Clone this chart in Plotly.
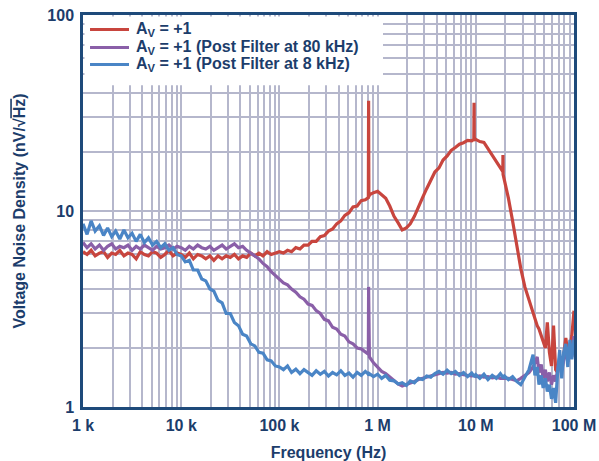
import plotly.graph_objects as go

# Frequency grid in kHz (extra points around the spurs and in the noisy top decade)
FREQ_KHZ = [
    1.0, 1.1, 1.21, 1.33, 1.47, 1.62, 1.78, 1.96, 2.15, 2.37, 2.61, 2.87,
    3.16, 3.48, 3.83, 4.22, 4.64, 5.11, 5.62, 6.19, 6.81, 7.5, 8.25, 9.09,
    10, 11, 12.1, 13.3, 14.7, 16.2, 17.8, 19.6, 21.5, 23.7, 26.1, 28.7,
    31.6, 34.8, 38.3, 42.2, 46.4, 51.1, 56.2, 61.9, 68.1, 75, 82.5, 90.9,
    100, 110, 121, 133, 147, 162, 178, 196, 215, 237, 261, 287,
    316, 348, 383, 422, 464, 511, 562, 619, 681, 750, 805, 810, 815, 825, 909,
    1000, 1100, 1210, 1330, 1470, 1620, 1780, 1960, 2150, 2370, 2610, 2870,
    3160, 3480, 3830, 4220, 4640, 5110, 5620, 6190, 6810, 7500, 8250, 9090,
    9550, 9600, 9650,
    10000, 11000, 12100, 13300, 14700, 16200, 17800, 18850, 18900, 18950,
    19600, 21500, 23700, 26100, 28700, 31600, 34800, 38300,
    40000, 42200, 44000, 46400, 48500, 51100, 53500, 56200, 59000, 61900,
    65000, 68100, 71500, 75000, 78500, 82500, 86500, 90900, 95000, 100000,
]

# Voltage noise density, nV/rtHz
NOISE_AV1 = [
    6.2, 6.0, 6.3, 5.9, 6.1, 6.2, 5.8, 6.1, 6.0, 6.3, 5.9, 6.1,
    6.0, 5.7, 6.2, 6.0, 5.9, 6.2, 6.1, 5.8, 6.0, 6.3, 5.9, 6.1,
    6.0, 5.8, 6.1, 5.7, 6.0, 5.9, 5.7, 5.9, 5.6, 5.9, 5.7, 5.9,
    5.8, 6.0, 5.7, 5.9, 5.8, 6.1, 5.9, 6.1, 5.9, 6.2, 6.0, 6.1,
    6.2, 6.1, 6.3, 6.2, 6.5, 6.4, 6.7, 6.7, 7.0, 7.0, 7.4, 7.5,
    7.9, 8.1, 8.6, 8.9, 9.5, 9.8, 10.5, 10.6, 11.3, 11.4, 11.7, 36.5, 11.8, 12.1, 12.4,
    12.6, 12.1, 11.6, 10.6, 9.4, 8.7, 8.0, 8.2, 8.6, 9.4, 10.4, 11.7,
    13.0, 14.2, 15.8, 16.6, 18.2, 19.1, 20.4, 21.1, 21.9, 22.3, 22.9, 22.8,
    23.3, 35.7, 23.1,
    23.2, 22.6, 22.4, 20.8, 19.4, 17.7, 16.7, 15.9, 19.3, 15.4,
    14.3, 11.6, 8.9, 6.7, 5.1, 4.1, 3.5, 3.0,
    2.85, 2.6, 2.5, 2.3, 2.15, 2.0, 2.7, 1.9, 1.62, 2.6,
    1.55, 1.5, 1.75, 1.6, 1.85, 2.25, 1.9, 2.0, 2.3, 3.1,
]

NOISE_AV1_PF80K = [
    6.9, 6.5, 6.8, 6.4, 6.7, 6.3, 6.6, 6.8, 6.4, 6.6, 6.5, 6.7,
    6.3, 6.6, 6.4, 6.7, 6.5, 6.3, 6.6, 6.4, 6.5, 6.7, 6.4, 6.6,
    6.5, 6.3, 6.6, 6.4, 6.7, 6.5, 6.4, 6.6, 6.3, 6.5, 6.7, 6.4,
    6.6, 6.8, 6.5, 6.6, 6.3, 6.1, 5.9, 5.7, 5.4, 5.2, 4.9, 4.7,
    4.5, 4.3, 4.2, 4.0, 3.85, 3.65, 3.55, 3.35, 3.3, 3.1, 3.0, 2.8,
    2.75, 2.55, 2.5, 2.35, 2.3, 2.15, 2.1, 2.0, 1.98, 1.9, 1.86, 4.1, 1.84, 1.8, 1.68,
    1.6, 1.52, 1.48, 1.42, 1.36, 1.31, 1.28, 1.3, 1.33, 1.35, 1.38, 1.4,
    1.42, 1.45, 1.46, 1.48, 1.5, 1.49, 1.5, 1.47, 1.48, 1.46, 1.45, 1.44,
    1.45, 1.45, 1.45,
    1.43, 1.44, 1.42, 1.43, 1.41, 1.42, 1.4, 1.4, 1.4, 1.4,
    1.41, 1.4, 1.38, 1.36, 1.4, 1.45, 1.5, 1.6,
    1.7, 1.8, 1.5, 1.65, 1.4, 1.55, 1.35, 1.5, 1.3, 1.45,
    1.35, 1.6, 1.8, 1.55, 1.7, 1.95, 1.7, 2.0, 1.8, 2.3,
]

NOISE_AV1_PF8K = [
    8.6, 7.6, 8.9, 7.9, 8.4, 7.5, 8.2, 7.4, 7.9, 7.2, 8.0, 7.3,
    7.7, 7.0, 7.6, 6.9, 7.3, 6.7, 7.0, 6.5, 6.8, 6.3, 6.5, 6.0,
    5.9, 5.5, 5.6, 5.0, 5.0, 4.5, 4.4, 4.0, 3.9, 3.5, 3.4, 3.0,
    3.0, 2.7, 2.6, 2.35, 2.3, 2.1, 2.05, 1.9, 1.88, 1.74, 1.72, 1.62,
    1.6, 1.55, 1.62, 1.5, 1.56, 1.48, 1.55, 1.5, 1.45, 1.53, 1.47, 1.52,
    1.44, 1.5, 1.46, 1.53, 1.45, 1.49, 1.42, 1.5, 1.45, 1.52, 1.47, 1.5, 1.44, 1.48, 1.43,
    1.47, 1.4, 1.45, 1.37, 1.36, 1.31, 1.33, 1.29, 1.36, 1.33, 1.4, 1.38,
    1.44, 1.42, 1.48, 1.52, 1.47, 1.54, 1.48, 1.52, 1.45, 1.5, 1.43, 1.49,
    1.44, 1.47, 1.42,
    1.46, 1.4, 1.47, 1.38, 1.45, 1.4, 1.48, 1.42, 1.45, 1.4,
    1.44, 1.38, 1.43, 1.35, 1.3, 1.42, 1.55, 1.85,
    1.45, 1.6, 1.3, 1.45, 1.25, 1.4, 1.2, 1.3, 1.1, 1.25,
    1.05, 1.5, 1.95, 1.4, 1.9, 2.1, 1.6, 2.2, 1.75, 2.2,
]

SERIES_NAMES = [
    "A<sub>V</sub> = +1",
    "A<sub>V</sub> = +1 (Post Filter at 80 kHz)",
    "A<sub>V</sub> = +1 (Post Filter at 8 kHz)",
]
SERIES_COLORS = ["#c8453e", "#8a5fa8", "#4a85c6"]

X_TICK_VALUES = [1e3, 1e4, 1e5, 1e6, 1e7, 1e8]
X_TICK_LABELS = ["1 k", "10 k", "100 k", "1 M", "10 M", "100 M"]
Y_TICK_VALUES = [1, 10, 100]
Y_TICK_LABELS = ["1", "10", "100"]

TEXT_COLOR = "#1c3d6b"
FRAME_COLOR = "#1e4a7a"
GRID_COLOR = "#b5b7cc"
FONT = "Arial, 'Liberation Sans', sans-serif"

freq_hz = [f * 1000 for f in FREQ_KHZ]
series = [NOISE_AV1, NOISE_AV1_PF80K, NOISE_AV1_PF8K]

fig = go.Figure()
for name, color, values in zip(SERIES_NAMES, SERIES_COLORS, series):
    assert len(values) == len(freq_hz)
    fig.add_trace(go.Scatter(
        x=freq_hz, y=values, mode="lines", name=name,
        line=dict(color=color, width=3.2), showlegend=False,
    ))

# minor grid at 2..9 within each decade
x_minor = [m * 10 ** d for d in range(3, 8) for m in range(2, 10)]
y_minor = [m * 10 ** d for d in range(0, 2) for m in range(2, 10)]

axis_common = dict(
    type="log", showline=True, mirror=True, linecolor=FRAME_COLOR, linewidth=2.5,
    ticks="", showgrid=True, gridcolor=GRID_COLOR, gridwidth=1.8, zeroline=False,
    tickfont=dict(family=FONT, size=16, color=TEXT_COLOR, weight="bold"),
)

fig.update_xaxes(
    range=[3, 8], tickmode="array", tickvals=X_TICK_VALUES, ticktext=X_TICK_LABELS,
    minor=dict(tickvals=x_minor, showgrid=True, gridcolor=GRID_COLOR, gridwidth=1.8, ticks=""),
    ticklabelstandoff=2,
    title=dict(text="Frequency (Hz)", standoff=14,
               font=dict(family=FONT, size=16, color=TEXT_COLOR, weight="bold")),
    **axis_common,
)
fig.update_yaxes(
    range=[0, 2], tickmode="array", tickvals=Y_TICK_VALUES, ticktext=Y_TICK_LABELS,
    minor=dict(tickvals=y_minor, showgrid=True, gridcolor=GRID_COLOR, gridwidth=1.8, ticks=""),
    ticklabelstandoff=3,
    title=dict(text="Voltage Noise Density (nV/√<span style='text-decoration:overline'>Hz</span>)",
               standoff=18,
               font=dict(family=FONT, size=16, color=TEXT_COLOR, weight="bold")),
    **axis_common,
)

# white panel behind the key, kept just inside the frame
fig.add_shape(type="rect", xref="x domain", yref="y domain",
              x0=0.003, x1=0.611, y0=0.821, y1=0.996,
              fillcolor="white", line=dict(width=0), layer="above")

key_rows = [0.963, 0.917, 0.874]
for name, color, yk in zip(SERIES_NAMES, SERIES_COLORS, key_rows):
    fig.add_shape(type="line", xref="x domain", yref="y domain",
                  x0=0.0143, x1=0.0937, y0=yk, y1=yk,
                  line=dict(color=color, width=3), layer="above")
    fig.add_annotation(xref="x domain", yref="y domain", x=0.104, y=yk,
                       xanchor="left", yanchor="middle", showarrow=False,
                       text=name,
                       font=dict(family=FONT, size=16, color=TEXT_COLOR, weight="bold"))

fig.update_layout(
    width=599, height=461,
    margin=dict(l=83, r=25, t=15, b=54, autoexpand=False),
    paper_bgcolor="white", plot_bgcolor="white",
    showlegend=False,
)

fig.write_html("out.html")
